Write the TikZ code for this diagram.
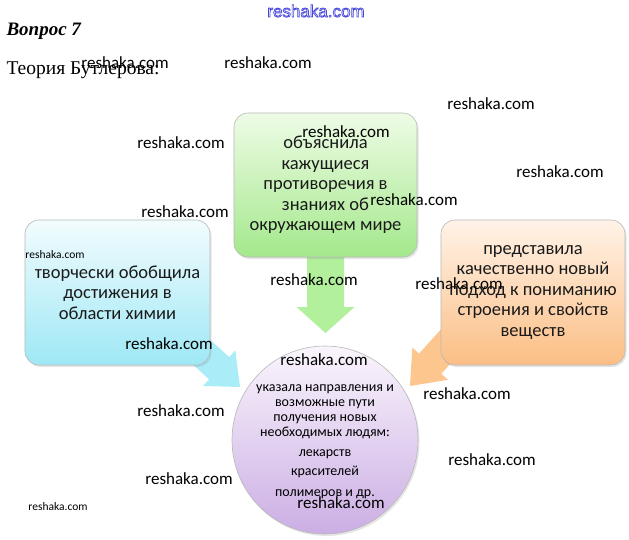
\documentclass[tikz,border=0pt]{standalone}
\usepackage{fontspec}
\setmainfont{Liberation Serif}
\newfontfamily\boxfont{Carlito}
\newfontfamily\markfont{Liberation Sans}
\usetikzlibrary{calc,shapes.geometric,shadows,backgrounds}
\definecolor{greentop}{HTML}{EEFCE6}
\definecolor{greenbot}{HTML}{A4E88C}
\definecolor{bluetop}{HTML}{F2FCFE}
\definecolor{bluebot}{HTML}{9EE8F5}
\definecolor{orangetop}{HTML}{FFF3E8}
\definecolor{orangebot}{HTML}{FBBE84}
\definecolor{lilactop}{HTML}{FAF5FC}
\definecolor{lilacbot}{HTML}{CBAEE4}
\definecolor{greenarr}{HTML}{B2F09C}
\definecolor{bluearr}{HTML}{AAEDF8}
\definecolor{orangearr}{HTML}{FCC68E}
\definecolor{markblue}{HTML}{4646DC}
\definecolor{boxink}{HTML}{1A1A1A}

\tikzset{
  ideabox/.style={draw=black!28, line width=.6pt, rounded corners=14pt,
    minimum width=184pt, minimum height=145pt, align=center, inner sep=2pt,
    text=boxink, font=\boxfont\fontsize{18.5}{20.5}\selectfont,
    drop shadow={shadow xshift=1.5pt, shadow yshift=-2pt, opacity=.2}},
  resultoval/.style={ellipse, draw=black!28, line width=.6pt,
    minimum width=186pt, minimum height=188pt, inner sep=0pt,
    top color=lilactop, bottom color=lilacbot,
    drop shadow={shadow xshift=1.5pt, shadow yshift=-2pt, opacity=.2}},
  resulttext/.style={align=center, inner sep=0pt,
    font=\boxfont\fontsize{14}{14.7}\selectfont},
  wmark/.style={inner sep=0pt, font=\boxfont\fontsize{17}{17}\selectfont},
  wmarksmall/.style={inner sep=0pt, font=\boxfont\fontsize{11.5}{12}\selectfont},
  % shaft half width, head half width, head length
  blockarrow/.style n args={3}{to path={
    let \p1=($(\tikztotarget)-(\tikztostart)$),
        \n1={atan2(\y1,\x1)}, \n2={veclen(\x1,\y1)-#3}, \n3={#2-#1} in
    ($(\tikztostart)+(\n1+90:#1pt)$) -- ++(\n1:\n2) -- ++(\n1+90:\n3pt)
    -- (\tikztotarget)
    -- ($(\tikztostart)+(\n1:\n2)+(\n1-90:#2pt)$) -- ++(\n1+90:\n3pt)
    -- ($(\tikztostart)+(\n1-90:#1pt)$) -- cycle}}
}

\begin{document}
\begin{tikzpicture}[x=1pt,y=-1pt]
  \useasboundingbox (0,0) rectangle (629,540);

  \node[anchor=base west, font=\bfseries\itshape\fontsize{19}{19}\selectfont]
    (question) at (3,36) {Вопрос 7};
  \node[anchor=base west, font=\fontsize{19.5}{19.5}\selectfont]
    (theory) at (3,75) {Теория Бутлерова:};

  % the four parts
  \node[ideabox, minimum width=183pt, minimum height=144pt,
    top color=greentop, bottom color=greenbot] (explained) at (325.5,185)
    {объяснила\\кажущиеся\\противоречия в\\знаниях об\\окружающем мире};
  \node[ideabox, minimum width=185pt, top color=bluetop, bottom color=bluebot]
    (generalized) at (117.5,292.5)
    {творчески обобщила\\достижения в\\области химии};
  \node[ideabox, top color=orangetop, bottom color=orangebot]
    (approach) at (533,292.5)
    {представила\\качественно новый\\подход к пониманию\\строения и свойств\\веществ};
  \node[resultoval] (result) at (325,440) {};
  \node[resulttext] (resultlist) at (325,442)
    {указала направления и\\возможные пути\\получения новых\\необходимых людям:\\[5.5pt]
     лекарств\\[5pt]красителей\\[6pt]полимеров и др.};

  % arrows into the oval
  \begin{scope}[on background layer]
    \fill[white] (0,0) rectangle (629,540);
    \coordinate (explainstart) at ($(explained.south)+(0,-20)$);
    \coordinate (explaintip) at (325.5,333);
    \coordinate (generalstart) at ($(generalized.south east)+(-22,-25)$);
    \coordinate (generaltip) at (240,387);
    \coordinate (approachstart) at ($(approach.south west)+(16,-31)$);
    \coordinate (approachtip) at (410,386);
    \fill[greenarr] (explainstart) to[blockarrow={18.5}{29}{26}] (explaintip);
    \fill[bluearr] (generalstart) to[blockarrow={15}{24}{28}] (generaltip);
    \fill[orangearr] (approachstart) to[blockarrow={15}{24}{30}] (approachtip);
  \end{scope}

  % watermarks
  \node[inner sep=0pt, text=markblue, font=\markfont\fontsize{17}{17}\selectfont]
    (topmark) at (316,11)
    {\special{pdf:literal direct 0.7 w 1 Tr}reshaka.com\special{pdf:literal direct 0 Tr}};
  \foreach \wx/\wy [count=\i] in {125/63, 268/63, 491/104, 181/143, 346/132,
      560/172, 185/212, 414/200, 314/280, 459/284, 169/344, 324/360,
      467/394, 181/411, 492/460, 189/479, 341/503}
    \node[wmark] (mark\i) at (\wx,\wy) {reshaka.com};
  \node[wmarksmall] (smallmark1) at (55,255) {reshaka.com};
  \node[wmarksmall] (smallmark2) at (58,507) {reshaka.com};
\end{tikzpicture}
\end{document}
